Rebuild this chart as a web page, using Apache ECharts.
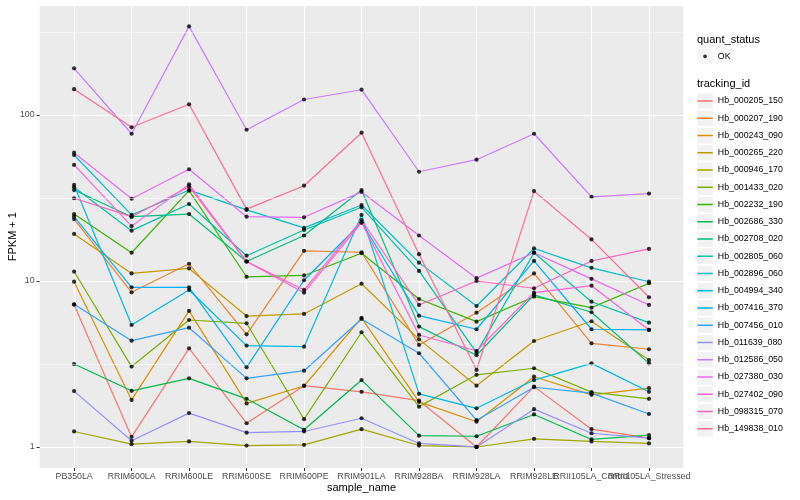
<!DOCTYPE html>
<html><head><meta charset="utf-8">
<script src="https://cdn.jsdelivr.net/npm/echarts@6/dist/echarts.min.js"></script>
<style>html,body{margin:0;padding:0;background:#fff}#c{width:800px;height:500px}</style>
</head><body><div id="c"></div>
<script>
// ---------- data ----------
const categories = ['PB350LA','RRIM600LA','RRIM600LE','RRIM600SE','RRIM600PE','RRIM901LA','RRIM928BA','RRIM928LA','RRIM928LE','RRII105LA_Control','RRII105LA_Stressed'];
const trackingIds = ['Hb_000205_150','Hb_000207_190','Hb_000243_090','Hb_000265_220','Hb_000946_170','Hb_001433_020','Hb_002232_190','Hb_002686_330','Hb_002708_020','Hb_002805_060','Hb_002896_060','Hb_004994_340','Hb_007416_370','Hb_007456_010','Hb_011639_080','Hb_012586_050','Hb_027380_030','Hb_027402_090','Hb_098315_070','Hb_149838_010'];
const seriesColors = ['#F8766D','#EA8331','#D89000','#C09B00','#A3A500','#7CAE00','#39B600','#00BB4E','#00BF7D','#00C1A3','#00BFC4','#00BAE0','#00B0F6','#35A2FF','#9590FF','#C77CFF','#E76BF3','#FA62DB','#FF62BC','#FF6C91'];
const quantStatus = ['OK'];

// FPKM + 1 per sample
const Hb_000205_150 = [7.2, 1.15, 3.93, 1.39, 2.34, 2.15, 1.9, 1.0, 2.31, 1.28, 1.13];
const Hb_000207_190 = [23.6, 8.55, 12.7, 4.77, 15.2, 14.9, 4.12, 6.44, 11.1, 4.21, 3.88];
const Hb_000243_090 = [9.9, 1.92, 6.6, 1.83, 2.33, 6.0, 1.87, 1.42, 2.65, 2.06, 2.26];
const Hb_000265_220 = [19.2, 11.1, 11.9, 6.15, 6.33, 9.63, 4.45, 2.34, 4.35, 5.72, 3.34];
const Hb_000946_170 = [1.24, 1.04, 1.08, 1.02, 1.03, 1.28, 1.02, 1.0, 1.12, 1.08, 1.05];
const Hb_001433_020 = [11.4, 3.05, 5.82, 5.56, 1.47, 4.91, 1.75, 2.72, 2.98, 2.14, 1.95];
const Hb_002232_190 = [25.3, 14.8, 35.0, 10.6, 10.8, 14.7, 7.79, 5.69, 8.04, 6.91, 9.69];
const Hb_002686_330 = [3.16, 2.18, 2.59, 1.95, 1.27, 2.53, 1.17, 1.16, 1.57, 1.11, 1.18];
const Hb_002708_020 = [35.3, 24.4, 25.3, 13.1, 18.8, 35.3, 5.31, 3.57, 8.24, 6.48, 3.19];
const Hb_002805_060 = [36.7, 20.1, 29.1, 14.2, 20.3, 27.8, 11.5, 3.7, 14.8, 7.5, 5.61];
const Hb_002896_060 = [57.4, 25.0, 35.3, 26.8, 20.9, 28.7, 12.9, 7.07, 15.7, 12.0, 9.9];
const Hb_004994_340 = [37.9, 5.43, 8.83, 4.08, 4.02, 25.0, 2.09, 1.71, 2.53, 3.19, 2.15];
const Hb_007416_370 = [24.4, 9.16, 9.16, 3.02, 10.1, 22.5, 6.18, 5.12, 13.2, 5.12, 5.07];
const Hb_007456_010 = [7.24, 4.37, 5.23, 2.59, 2.88, 5.9, 3.67, 1.45, 2.29, 2.11, 1.58];
const Hb_011639_080 = [2.17, 1.09, 1.6, 1.22, 1.24, 1.49, 1.05, 1.0, 1.69, 1.21, 1.13];
const Hb_012586_050 = [191, 77.1, 342, 81.5, 124, 142, 45.5, 53.8, 77.1, 32.1, 33.6];
const Hb_027380_030 = [59.3, 31.3, 47.1, 24.4, 24.2, 34.4, 18.8, 10.4, 14.8, 10.3, 7.17];
const Hb_027402_090 = [50.0, 21.4, 38.2, 13.1, 8.5, 22.5, 4.73, 3.8, 8.5, 9.37, 5.07];
const Hb_098315_070 = [31.5, 24.4, 37.0, 13.1, 8.83, 23.3, 7.17, 10.0, 9.04, 13.2, 15.6];
const Hb_149838_010 = [143, 84.3, 116, 27.1, 37.5, 78.2, 14.5, 2.91, 34.8, 17.8, 7.98];

const seriesValues = [Hb_000205_150, Hb_000207_190, Hb_000243_090, Hb_000265_220, Hb_000946_170, Hb_001433_020, Hb_002232_190, Hb_002686_330, Hb_002708_020, Hb_002805_060, Hb_002896_060, Hb_004994_340, Hb_007416_370, Hb_007456_010, Hb_011639_080, Hb_012586_050, Hb_027380_030, Hb_027402_090, Hb_098315_070, Hb_149838_010];

const yMinorBreaks = [3.1623, 31.623, 316.23];
const yRange = [0.747, 458];

// ---------- layout ----------
const FONT = '"Liberation Sans", Arial, Helvetica, sans-serif';
const PANEL = {left: 39.6, right: 116.5, top: 5.3, bottom: 32};
const panelW = 800 - PANEL.left - PANEL.right;
const UNIT = panelW / (categories.length - 1 + 1.2);
const inset = 0.1 * UNIT;

const chart = echarts.init(document.getElementById('c'), null, {renderer: 'canvas'});

const lineSeries = trackingIds.map((id, i) => ({
  name: id, type: 'line', xAxisIndex: 0, yAxisIndex: 0,
  data: seriesValues[i], symbol: 'none', silent: true, z: 2,
  lineStyle: {color: seriesColors[i], width: 1.2},
  itemStyle: {color: seriesColors[i]},
  emphasis: {disabled: true}
}));

const pointData = [];
seriesValues.forEach(arr => arr.forEach((v, j) => pointData.push([categories[j], v])));

const K = 15.5;
const linePath = 'path://M0,0h0.01v0.01h-0.01z M' + (K-0.01) + ',' + (K-0.01) + 'h0.01v0.01h-0.01z M0,' + (K/2-0.8) + 'h' + K + 'v1.6h-' + K + 'z';
const dotPath = 'path://M0,0h0.01v0.01h-0.01z M' + (K-0.01) + ',' + (K-0.01) + 'h0.01v0.01h-0.01z M' + (K/2-1.9) + ',' + (K/2) + 'a1.9,1.9 0 1,0 3.8,0a1.9,1.9 0 1,0 -3.8,0z';

const legendBase = {orient: 'vertical', padding: 0, itemWidth: K, itemHeight: K, itemGap: 1.75, selectedMode: false, left: 697.3,
  textStyle: {fontSize: 8.8, color: '#000', fontFamily: FONT}};
const bgLegend = Object.assign({}, legendBase, {icon: 'rect', itemStyle: {color: '#F2F2F2', borderWidth: 0},
  textStyle: {fontSize: 8.8, color: 'rgba(0,0,0,0)', fontFamily: FONT}});

const option = {
  animation: false,
  backgroundColor: '#fff',
  textStyle: {fontFamily: FONT},
  title: [
    {text: 'quant_status', left: 697, top: 34.3, padding: 0, textStyle: {fontSize: 11, fontWeight: 'normal', color: '#000', fontFamily: FONT}},
    {text: 'tracking_id', left: 697, top: 78.4, padding: 0, textStyle: {fontSize: 11, fontWeight: 'normal', color: '#000', fontFamily: FONT}}
  ],
  legend: [
    Object.assign({}, bgLegend, {id: 'okBg', top: 48.6, data: quantStatus}),
    Object.assign({}, legendBase, {id: 'okFg', top: 48.6, data: quantStatus, icon: dotPath, itemStyle: {borderWidth: 0}}),
    Object.assign({}, bgLegend, {id: 'tkBg', top: 93.3, data: trackingIds}),
    Object.assign({}, legendBase, {id: 'tkFg', top: 93.3, data: trackingIds, icon: linePath, itemStyle: {borderWidth: 0}})
  ],
  grid: [
    {left: PANEL.left + inset, right: PANEL.right + inset, top: PANEL.top, bottom: PANEL.bottom, outerBoundsMode: 'none', containLabel: false, show: false},
    {left: PANEL.left, right: PANEL.right, top: PANEL.top, bottom: PANEL.bottom, outerBoundsMode: 'none', containLabel: false, show: true, backgroundColor: '#EBEBEB', borderWidth: 0}
  ],
  xAxis: [
    {type: 'category', gridIndex: 0, data: categories, boundaryGap: true,
     name: 'sample_name', nameLocation: 'middle', nameGap: 14, nameMoveOverlap: false,
     nameTextStyle: {fontSize: 11, color: '#000', fontFamily: FONT},
     axisLine: {show: false},
     axisTick: {show: true, alignWithLabel: true, length: 3, lineStyle: {color: '#333', width: 1}},
     axisLabel: {interval: 0, hideOverlap: false, margin: 4, fontSize: 8.8, color: '#4D4D4D', fontFamily: FONT},
     splitLine: {show: true, alignWithLabel: true, interval: 0, lineStyle: {color: '#fff', width: 1.07}}},
    {type: 'value', gridIndex: 1, min: 0, max: 1, show: false}
  ],
  yAxis: [
    {type: 'log', logBase: 10, gridIndex: 0, min: yRange[0], max: yRange[1], show: false},
    {type: 'log', logBase: 10, gridIndex: 1, min: yRange[0], max: yRange[1],
     name: 'FPKM + 1', nameLocation: 'middle', nameGap: 21, nameRotate: 90, nameMoveOverlap: false,
     nameTextStyle: {fontSize: 11, color: '#000', fontFamily: FONT},
     axisLine: {show: false},
     axisTick: {show: true, length: 3, lineStyle: {color: '#333', width: 1}},
     axisLabel: {showMinLabel: false, showMaxLabel: false, margin: 5, fontSize: 8.8, color: '#4D4D4D', fontFamily: FONT},
     splitLine: {show: true, lineStyle: {color: '#fff', width: 1.07}},
     minorTick: {show: false}, minorSplitLine: {show: false}}
  ],
  series: [
    {type: 'line', name: '__minor', xAxisIndex: 1, yAxisIndex: 1, data: [], silent: true, z: 1,
     markLine: {silent: true, symbol: ['none', 'none'], label: {show: false}, animation: false,
       lineStyle: {color: '#fff', width: 0.55, type: 'solid'},
       emphasis: {disabled: true},
       data: yMinorBreaks.map(v => ({yAxis: v}))}}
  ].concat(lineSeries).concat([
    {type: 'scatter', name: 'OK', xAxisIndex: 0, yAxisIndex: 0, data: pointData, symbol: 'circle', symbolSize: 4.2,
     itemStyle: {color: '#000'}, silent: true, z: 3, emphasis: {disabled: true}}
  ])
};
chart.setOption(option);
</script></body></html>
